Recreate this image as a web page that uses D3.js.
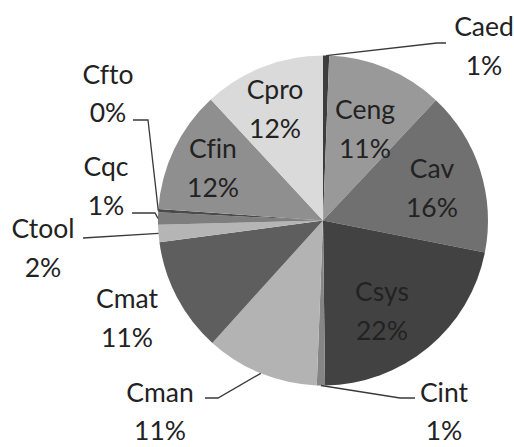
<!DOCTYPE html>
<html>
<head>
<meta charset="utf-8">
<script src="https://cdn.jsdelivr.net/npm/d3@7"></script>
<style>
  body { margin: 0; background: #fff; }
  text { font-family: Lato, "Liberation Sans", sans-serif; fill: #222; font-variant-ligatures: none; }
</style>
</head>
<body>
<svg id="chart" width="514" height="447"></svg>
<script>
// cost shares in percent, clockwise from 12 o'clock
const categories = ["Caed", "Ceng", "Cav", "Csys", "Cint", "Cman", "Cmat", "Ctool", "Cqc", "Cfto", "Cfin", "Cpro"]
const shares = [0.6, 11.4, 16.1, 21.7, 0.8, 11.1, 11.2, 1.7, 1.2, 0.3, 12.0, 11.9]
const sliceColors = ["#3d3d3d", "#999999", "#707070", "#424242", "#858585", "#b3b3b3",
                     "#5e5e5e", "#b5b5b5", "#7e7e7e", "#4a4a4a", "#8f8f8f", "#dadada"]

const width = 514, height = 447
const cx = 323, cy = 220.5, radius = 165
const fontSize = 26.5, lineGap = 38.5

// label block centre relative to pie centre, leader elbow / tail for outside ones
const labelLayout = {
  Caed:  { at: [161, -174.5], elbow: [114, -177.5], tail: [123, -177.5] },
  Ceng:  { at: [42, -91.5] },
  Cav:   { at: [109, -32.5] },
  Csys:  { at: [59, 90.5] },
  Cint:  { at: [121, 191], elbow: [77, 177.5], tail: [92, 177.5] },
  Cman:  { at: [-163, 191], elbow: [-105, 177.5], tail: [-118, 177.5] },
  Cmat:  { at: [-196, 97.5] },
  Ctool: { at: [-280, 27.5], elbow: [-240, 17.5], tail: [-240, 17.5] },
  Cqc:   { at: [-217, -34.5], elbow: [-168, -7.5], tail: [-191, -7.5] },
  Cfto:  { at: [-215, -127], elbow: [-175, -100.5], tail: [-190, -100.5] },
  Cfin:  { at: [-110, -52.5] },
  Cpro:  { at: [-48, -111.5] }
}

const data = categories.map((c, i) => ({ name: c, value: shares[i], color: sliceColors[i] }))

const svg = d3.select("#chart")
const g = svg.append("g").attr("transform", `translate(${cx},${cy})`)

const pie = d3.pie().sort(null).value(d => d.value)
const arc = d3.arc().innerRadius(0).outerRadius(radius)
const edgeArc = d3.arc().innerRadius(radius).outerRadius(radius)

const arcs = pie(data)

g.selectAll("path.slice")
  .data(arcs)
  .enter()
  .append("path")
  .attr("class", "slice")
  .attr("d", arc)
  .attr("fill", d => d.data.color)

// leader lines
g.selectAll("polyline.leader")
  .data(arcs.filter(d => labelLayout[d.data.name].elbow))
  .enter()
  .append("polyline")
  .attr("class", "leader")
  .attr("points", d => {
    const lay = labelLayout[d.data.name]
    return [edgeArc.centroid(d), lay.elbow, lay.tail].map(p => p.join(",")).join(" ")
  })
  .attr("fill", "none")
  .attr("stroke", "#3a3a3a")
  .attr("stroke-width", 1.3)

// labels: name on first line, rounded percent on second
const labels = g.selectAll("text.label")
  .data(arcs)
  .enter()
  .append("text")
  .attr("class", "label")
  .attr("text-anchor", "middle")
  .style("font-size", fontSize + "px")

labels.append("tspan")
  .attr("x", d => labelLayout[d.data.name].at[0])
  .attr("y", d => labelLayout[d.data.name].at[1] - lineGap / 2 + fontSize * 0.36)
  .text(d => d.data.name)

labels.append("tspan")
  .attr("x", d => labelLayout[d.data.name].at[0])
  .attr("y", d => labelLayout[d.data.name].at[1] + lineGap / 2 + fontSize * 0.36)
  .text(d => Math.round(d.data.value) + "%")
</script>
</body>
</html>
